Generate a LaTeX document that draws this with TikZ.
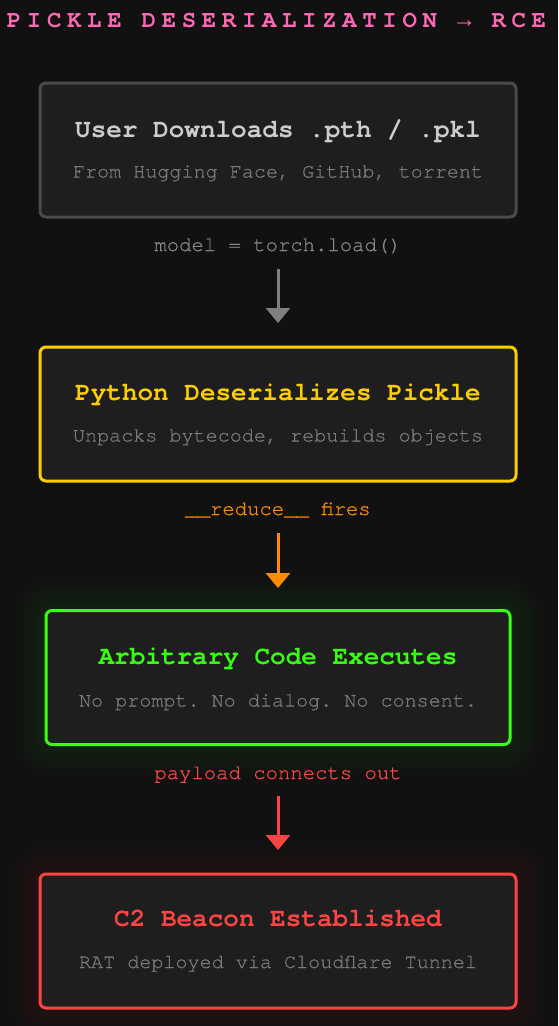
\documentclass[tikz,border=0pt]{standalone}
\usepackage{fontspec}
\setmonofont{texgyrecursor}[Extension=.otf, UprightFont=*-regular, BoldFont=*-bold, UprightFeatures={FakeBold=0.6}]
\newfontfamily\arrowfont{Liberation Mono}
\usetikzlibrary{arrows.meta}
\definecolor{bg}{HTML}{111111}
\definecolor{boxfill}{HTML}{1E1E1E}
\definecolor{c1}{HTML}{4A4A4A}
\definecolor{t1}{HTML}{CCCCCC}
\definecolor{subc}{HTML}{7A7A7A}
\definecolor{lab1}{HTML}{888888}
\definecolor{arr1}{HTML}{808080}
\definecolor{yel}{HTML}{FFCC00}
\definecolor{ora}{HTML}{FF8C00}
\definecolor{grn}{HTML}{39FF14}
\definecolor{redc}{HTML}{FF4444}
\definecolor{pinkc}{HTML}{FF69B4}
\pgfdeclarelayer{background}
\pgfsetlayers{background,main}
\tikzset{
  stepbox/.style={draw, fill=boxfill, rounded corners=6pt, line width=3pt,
    minimum width=476pt, minimum height=134pt, inner sep=0pt},
  ttl/.style={font=\fontsize{26}{26}\selectfont\ttfamily\bfseries, anchor=base, inner sep=0pt},
  subt/.style={font=\fontsize{20.1}{20.1}\selectfont\ttfamily, text=subc, anchor=base, inner sep=0pt},
  lbl/.style={font=\fontsize{20.6}{20.6}\selectfont\ttfamily, anchor=base, inner sep=0pt},
  flow/.style={line width=3pt, -{Triangle[width=24pt,length=15pt,sep=9pt]}},
}
\newcommand{\glowbox}[2]{%
  \foreach \d in {1,...,15}{%
    \fill[#2, opacity=0.008, rounded corners=6pt+2*\d pt]
      ([shift={(-2*\d,-2*\d)}]#1.north west) rectangle ([shift={(2*\d,2*\d)}]#1.south east);
  }%
}
\begin{document}
\begin{tikzpicture}[x=1pt,y=-1pt]
\useasboundingbox (0,0) rectangle (558,1026);
% title
\node[anchor=base, inner sep=0pt, text=pinkc,
  font=\fontsize{24}{24}\selectfont\ttfamily\bfseries\addfontfeature{LetterSpace=23.6}]
  (title) at (276.5,27) {PICKLE DESERIALIZATION {\arrowfont\addfontfeature{LetterSpace=23.6}→} RCE};
% boxes
\node[stepbox, draw=c1] (b1) at (278,150) {};
\node[stepbox, draw=yel] (b2) at (278,414) {};
\node[stepbox, draw=grn, minimum width=464pt] (b3) at (278,677.5) {};
\node[stepbox, draw=redc] (b4) at (278,941) {};
\begin{pgfonlayer}{background}
  \fill[bg] (0,0) rectangle (558,1026);
  \glowbox{b3}{grn}
  \glowbox{b4}{redc}
\end{pgfonlayer}
% box texts
\node[ttl, text=t1] (b1t) at (278,137.5) {User Downloads .pth / .pkl};
\node[subt] (b1s) at (278,177.5) {From Hugging Face, GitHub, torrent};
\node[ttl, text=yel] (b2t) at (278,400) {Python Deserializes Pickle};
\node[subt] (b2s) at (278,441.5) {Unpacks bytecode, rebuilds objects};
\node[ttl, text=grn] (b3t) at (278,664) {Arbitrary Code Executes};
\node[subt] (b3s) at (278,706.5) {No prompt. No dialog. No consent.};
\node[ttl, text=redc] (b4t) at (278,926.5) {C2 Beacon Established};
\node[subt] (b4s) at (278,968) {RAT deployed via Cloudflare Tunnel};
% labels
\node[lbl, text=lab1] (l1) at (278,251) {model = torch.load()};
\node[lbl, text=ora] (l2) at (278,515) {\_\_reduce\_\_ fires};
\node[lbl, text=redc] (l3) at (278,779) {payload connects out};
% connectors
\coordinate (a1s) at (278,269); \coordinate (a1e) at (278,332);
\coordinate (a2s) at (278,533); \coordinate (a2e) at (278,597);
\coordinate (a3s) at (278,796); \coordinate (a3e) at (278,859);
\draw[flow, arr1] (a1s) -- (a1e);
\draw[flow, ora] (a2s) -- (a2e);
\draw[flow, redc] (a3s) -- (a3e);
\end{tikzpicture}
\end{document}
